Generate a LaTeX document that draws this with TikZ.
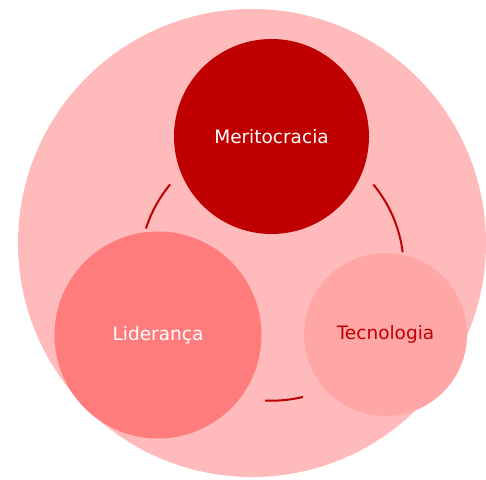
\documentclass[tikz,border=0pt]{standalone}
\usepackage{fontspec}
\setmainfont{DejaVu Sans}
\definecolor{bigpink}{RGB}{255,187,187}
\definecolor{darkred}{RGB}{192,0,0}
\definecolor{midred}{RGB}{255,124,124}
\definecolor{lightred}{RGB}{255,166,166}
\begin{document}
\begin{tikzpicture}[x=1pt,y=1pt,
  bubble/.style={circle, inner sep=0pt, draw=none, font=\fontsize{18.5}{21}\selectfont},
  link/.style={draw=darkred, line width=2pt}]
\useasboundingbox (0,0) rectangle (486,479);
\clip (0,0) rectangle (486,479);
\fill[white] (0,0) rectangle (486,479);
\node[bubble, fill=bigpink, minimum size=468pt] (outer) at (252,236) {};
\node[bubble, fill=darkred, text=white, minimum size=195pt] (merit) at (271.5,342.5) {Meritocracia};
\node[bubble, fill=midred, text=white, minimum size=207pt] (lider) at (158,144) {Liderança};
\node[bubble, fill=lightred, text=darkred, minimum size=163pt] (tecno) at (385.5,144.5) {Tecnologia};
\coordinate (ring) at (271.7,210.3);
\draw[link] ([shift={(140.3:132)}]ring) arc[start angle=140.3, end angle=162.3, radius=132];
\draw[link] ([shift={(7.2:132)}]ring) arc[start angle=7.2, end angle=39.6, radius=132];
\draw[link] ([shift={(-92.9:132)}]ring) arc[start angle=-92.9, end angle=-76.3, radius=132];
\end{tikzpicture}
\end{document}
